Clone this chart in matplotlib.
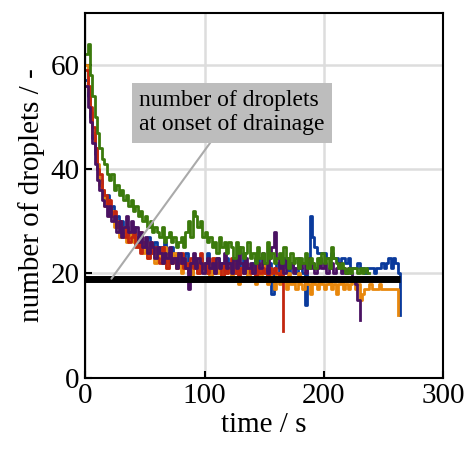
import matplotlib
matplotlib.use("Agg")
import matplotlib.pyplot as plt
import numpy as np

plt.rcParams["font.family"] = ["Liberation Serif", "DejaVu Serif"]

# droplet counts, sampled every 2 s
blue = [57, 54, 50, 46, 43, 40, 38, 36, 34, 35,
        32, 33, 30, 31, 29, 30, 28, 29, 27, 28,
        29, 26, 27, 28, 25, 26, 27, 24, 25, 26,
        24, 25, 23, 26, 24, 22, 25, 23, 24, 22,
        23, 21, 24, 22, 20, 23, 22, 21, 23, 22,
        21, 24, 22, 20, 22, 23, 21, 22, 20, 23,
        22, 21, 23, 20, 22, 21, 24, 22, 20, 21,
        22, 20, 23, 21, 22, 20, 21, 22, 16, 21,
        22, 20, 21, 23, 21, 20, 22, 21, 20, 22,
        21, 20, 14, 22, 31, 27, 25, 24, 24, 24,
        24, 23, 23, 24, 23, 23, 22, 23, 23, 22,
        23, 21, 21, 21, 22, 21, 21, 20, 21, 21,
        21, 20, 21, 21, 22, 21, 22, 23, 21, 23,
        22, 20, 12]
orange = [60, 55, 51, 47, 44, 41, 37, 36, 33, 34,
          31, 32, 29, 30, 27, 28, 29, 26, 27, 28,
          26, 27, 25, 28, 24, 26, 23, 25, 24, 22,
          24, 23, 22, 25, 21, 23, 22, 24, 21, 22,
          20, 23, 21, 22, 19, 21, 23, 20, 22, 21,
          20, 22, 19, 21, 23, 20, 21, 19, 22, 20,
          21, 19, 22, 20, 18, 21, 20, 22, 19, 21,
          20, 18, 21, 19, 22, 20, 18, 21, 19, 17,
          20, 18, 21, 19, 17, 20, 18, 19, 17, 20,
          18, 17, 19, 18, 16, 19, 18, 17, 19, 18,
          17, 18, 19, 17, 18, 16, 18, 19, 17, 18,
          17, 18, 19, 17, 18, 15, 16, 17, 17, 18,
          17, 17, 17, 18, 17, 17, 17, 17, 17, 17,
          17, 12]
red = [59, 56, 52, 48, 44, 40, 39, 36, 35, 33,
       34, 31, 32, 29, 30, 28, 27, 29, 26, 27,
       28, 25, 27, 24, 26, 25, 23, 26, 24, 25,
       23, 22, 25, 23, 21, 24, 22, 23, 21, 22,
       24, 21, 22, 20, 23, 21, 22, 20, 24, 21,
       22, 20, 21, 23, 20, 22, 21, 19, 22, 20,
       21, 23, 20, 22, 19, 21, 20, 22, 21, 20,
       21, 19, 22, 20, 21, 20, 19, 21, 20, 21,
       20, 19, 21, 9]
purple = [56, 52, 49, 45, 41, 38, 36, 34, 33, 31,
          33, 30, 31, 28, 30, 27, 29, 31, 28, 30,
          28, 29, 26, 28, 25, 27, 24, 26, 25, 23,
          25, 24, 22, 24, 23, 25, 22, 23, 21, 24,
          22, 23, 21, 17, 22, 24, 21, 23, 22, 20,
          22, 23, 21, 22, 20, 23, 21, 22, 24, 21,
          22, 20, 23, 21, 25, 22, 20, 23, 21, 22,
          20, 23, 22, 21, 24, 22, 20, 23, 25, 28,
          23, 21, 22, 20, 23, 21, 22, 20, 21, 23,
          21, 22, 20, 23, 21, 22, 20, 21, 23, 21,
          22, 20, 21, 22, 20, 21, 22, 20, 21, 20,
          21, 20, 19, 18, 15, 11]
green = [62, 64, 58, 54, 50, 47, 44, 42, 41, 39,
         38, 39, 36, 37, 35, 36, 34, 35, 33, 34,
         32, 33, 31, 32, 30, 31, 29, 30, 28, 29,
         28, 27, 29, 26, 27, 28, 26, 27, 25, 26,
         27, 25, 28, 30, 27, 32, 31, 29, 30, 27,
         28, 26, 27, 25, 26, 24, 27, 25, 26, 24,
         26, 25, 23, 26, 24, 25, 23, 24, 26, 23,
         24, 22, 25, 23, 24, 22, 26, 23, 24, 22,
         23, 24, 22, 25, 23, 21, 24, 22, 23, 21,
         23, 22, 24, 21, 23, 22, 21, 23, 22, 24,
         22, 23, 21, 25, 23, 22, 21, 22, 21, 20,
         21, 20, 21, 21, 20, 21, 20, 21, 20, 20]

series = [(blue, "#0a3a9c"), (orange, "#e8870c"), (red, "#c2260f"),
          (purple, "#4a1262"), (green, "#3b7a0c")]

onset_time = [0, 264]
onset_count = [19, 19]

fig = plt.figure(figsize=(4.68, 4.53), dpi=100)
ax = fig.add_axes([0.182, 0.166, 0.765, 0.806])

for vals, c in series:
    t = np.arange(len(vals)) * 2
    ax.plot(t, vals, color=c, lw=2.0, drawstyle="steps-post")

ax.plot(onset_time, onset_count, color="black", lw=5, solid_capstyle="butt")

ax.annotate("number of droplets\nat onset of drainage", xy=(22, 19),
            xytext=(123, 50.8), ha="center", va="center", fontsize=17,
            multialignment="left",
            bbox=dict(boxstyle="square,pad=0.3", fc="#bdbdbd", ec="none"),
            arrowprops=dict(arrowstyle="-", color="#aaaaaa", lw=1.5,
                            shrinkA=0, shrinkB=0))

ax.set_xlim(0, 300)
ax.set_ylim(0, 70)
ax.set_xticks([0, 100, 200, 300])
ax.set_yticks([0, 20, 40, 60])
ax.grid(True, color="#dddddd", lw=1.8)
ax.set_axisbelow(True)
ax.tick_params(direction="in", length=5, width=1.5, labelsize=21, pad=4)
for s in ax.spines.values():
    s.set_linewidth(1.5)
ax.set_xlabel("time / s", fontsize=21, labelpad=2)
ax.set_ylabel("number of droplets / -", fontsize=21, labelpad=4)

fig.savefig("out.png", dpi=100)
